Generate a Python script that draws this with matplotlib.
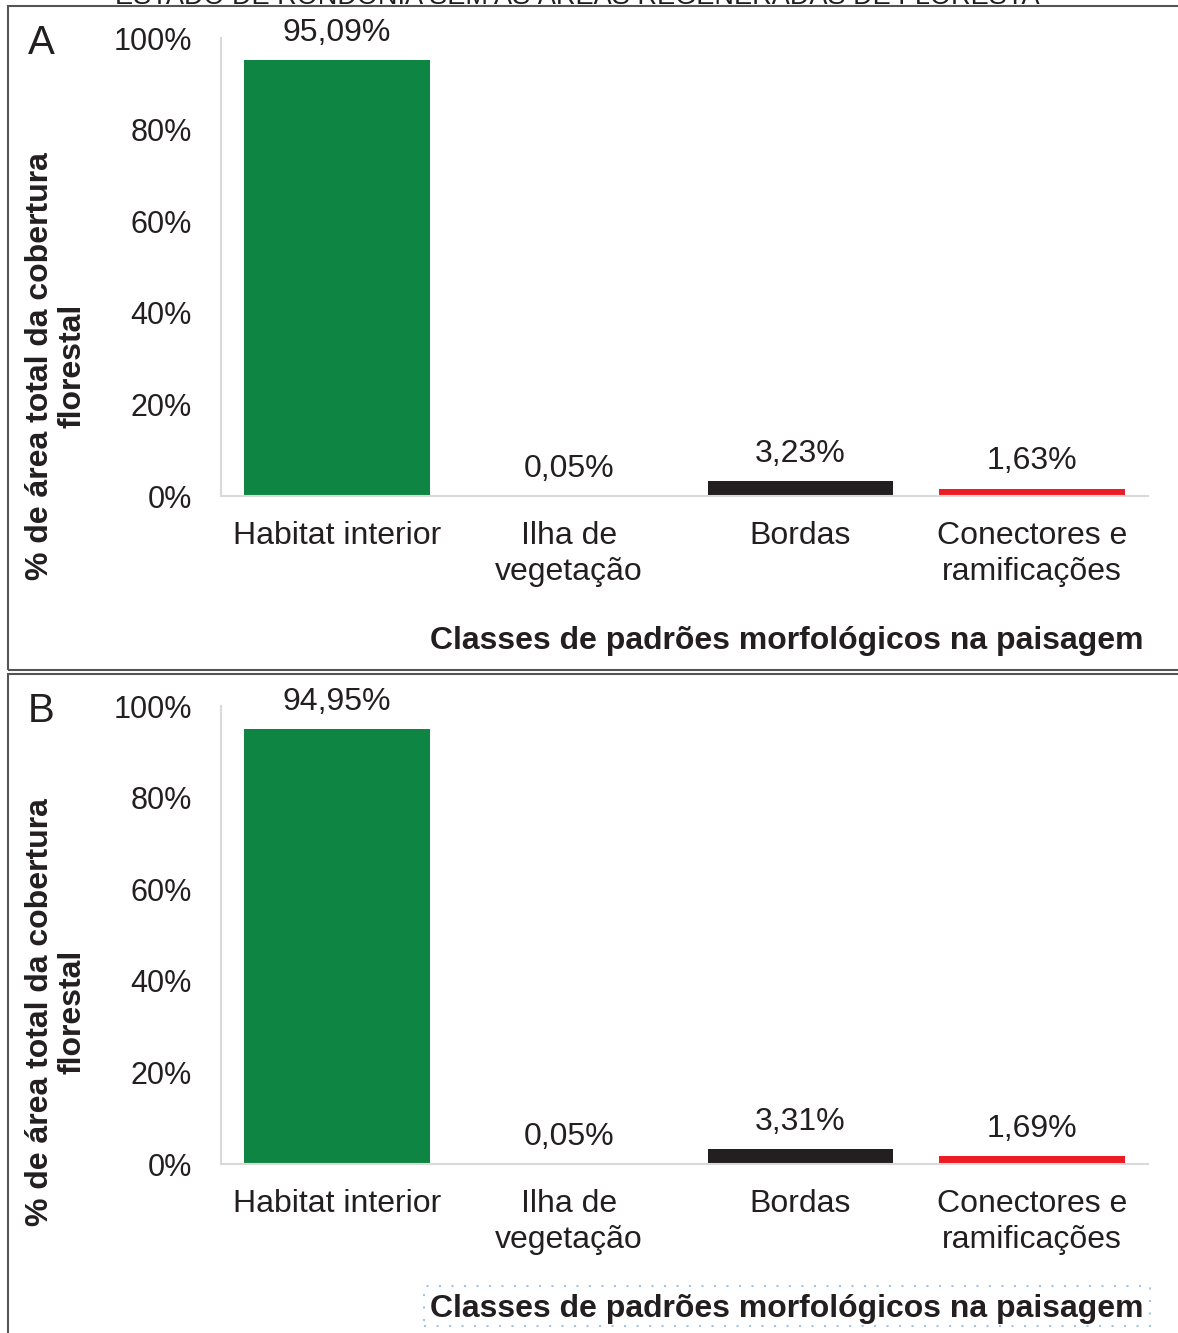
import matplotlib.pyplot as plt
from matplotlib.patches import Rectangle

plt.rcParams['font.family'] = ['Liberation Sans', 'DejaVu Sans']

categories = ['Habitat interior', 'Ilha de\nvegetação', 'Bordas', 'Conectores e\nramificações']
values_a = [95.09, 0.05, 3.23, 1.63]
values_b = [94.95, 0.05, 3.31, 1.69]
labels_a = ['95,09%', '0,05%', '3,23%', '1,63%']
labels_b = ['94,95%', '0,05%', '3,31%', '1,69%']
yticks = [0, 20, 40, 60, 80, 100]
ytick_labels = ['0%', '20%', '40%', '60%', '80%', '100%']
colors = ['#0E8542', '#0E8542', '#231F20', '#ED1C24']

W, H = 1178, 1333
fig = plt.figure(figsize=(W / 100, H / 100), dpi=100)


def px(x0, y_top, x1, y_bot):
    return [x0 / W, 1 - y_bot / H, (x1 - x0) / W, (y_bot - y_top) / H]


def panel(vals, labels, y_top, y_bot, letter, ylab_y, xlab_y):
    ax = fig.add_axes(px(221, y_top, 1148, y_bot))
    x = range(len(categories))
    ax.bar(x, vals, width=0.8, color=colors)
    ax.set_xlim(-0.5, 3.5)
    ax.set_ylim(0, 100)
    ax.set_yticks(yticks)
    ax.set_yticklabels(ytick_labels)
    ax.set_xticks(list(x))
    ax.set_xticklabels(categories, linespacing=1.27)
    ax.tick_params(axis='y', length=0, pad=21, labelsize=22, labelcolor='#231F20')
    ax.tick_params(axis='x', length=0, pad=18, labelsize=23, labelcolor='#231F20')
    for s in ['top', 'right']:
        ax.spines[s].set_visible(False)
    for s in ['left', 'bottom']:
        ax.spines[s].set_color('#d9d9d9')
        ax.spines[s].set_linewidth(1.5)
    for i, (v, l) in enumerate(zip(vals, labels)):
        ax.annotate(l, (i, v), xytext=(0, 19.5), textcoords='offset points',
                    ha='center', va='center', fontsize=23, color='#231F20')
    fig.text(41 / W, 1 - (y_top + 5) / H, letter, fontsize=29, ha='center', va='center', color='#231F20')
    fig.text(56 / W, 1 - ylab_y / H, '% de área total da cobertura\nflorestal', rotation=90,
             fontsize=23, fontweight='bold', ha='center', va='center', linespacing=1.12, color='#231F20')
    fig.text(1143 / W, 1 - xlab_y / H, 'Classes de padrões morfológicos na paisagem',
             fontsize=23, fontweight='bold', ha='right', va='center', color='#231F20')
    return ax


panel(values_a, labels_a, 38, 496, 'A', 366, 641)
panel(values_b, labels_b, 706, 1164, 'B', 1012, 1309)

# panel frames
fig.add_artist(Rectangle((8 / W, 1 - 670 / H), 1.0, (670 - 6) / H, transform=fig.transFigure,
                         fill=False, edgecolor='#555555', linewidth=1.5, clip_on=False))
fig.add_artist(Rectangle((8 / W, -0.01), 1.0, 0.01 + (1333 - 674) / H, transform=fig.transFigure,
                         fill=False, edgecolor='#555555', linewidth=1.5, clip_on=False))
# dotted selection box around the axis title
fig.add_artist(Rectangle((424 / W, 1 - 1326 / H), (1150 - 424) / W, 40 / H, transform=fig.transFigure,
                         fill=False, edgecolor='#9ec5e8', linewidth=1.5, linestyle=(0, (1, 5))))

# title cut off at the top edge of the original page
fig.text(0.49, 1 - 4 / H, 'ESTADO DE RONDÔNIA SEM AS ÁREAS REGENERADAS DE FLORESTA',
         fontsize=19.5, ha='center', va='baseline', color='#231F20')

fig.savefig('out.png', dpi=100)
